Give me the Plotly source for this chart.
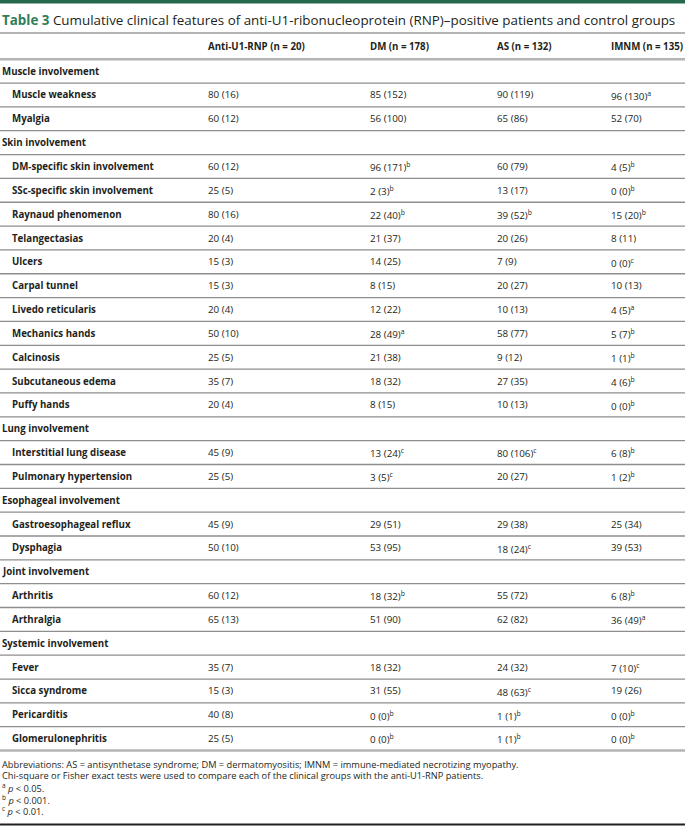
import plotly.graph_objects as go

# ---------------- data ----------------
title_label = "Table 3"
title_text = "Cumulative clinical features of anti-U1-ribonucleoprotein (RNP)–positive patients and control groups"
col_headers = ["Anti-U1-RNP (n = 20)", "DM (n = 178)", "AS (n = 132)", "IMNM (n = 135)"]

row_labels = [
    "Muscle involvement", "Muscle weakness", "Myalgia",
    "Skin involvement", "DM-specific skin involvement", "SSc-specific skin involvement",
    "Raynaud phenomenon", "Telangectasias", "Ulcers", "Carpal tunnel", "Livedo reticularis",
    "Mechanics hands", "Calcinosis", "Subcutaneous edema", "Puffy hands",
    "Lung involvement", "Interstitial lung disease", "Pulmonary hypertension",
    "Esophageal involvement", "Gastroesophageal reflux", "Dysphagia",
    "Joint involvement", "Arthritis", "Arthralgia",
    "Systemic involvement", "Fever", "Sicca syndrome", "Pericarditis", "Glomerulonephritis",
]
is_section = [
    True, False, False,
    True, False, False, False, False, False, False, False, False, False, False, False,
    True, False, False,
    True, False, False,
    True, False, False,
    True, False, False, False, False,
]

rnp_pct = [None, 80, 60, None, 60, 25, 80, 20, 15, 15, 20, 50, 25, 35, 20, None, 45, 25, None, 45, 50, None, 60, 65, None, 35, 15, 40, 25]
rnp_n   = [None, 16, 12, None, 12, 5, 16, 4, 3, 3, 4, 10, 5, 7, 4, None, 9, 5, None, 9, 10, None, 12, 13, None, 7, 3, 8, 5]
rnp_sig = [""] * 29

dm_pct = [None, 85, 56, None, 96, 2, 22, 21, 14, 8, 12, 28, 21, 18, 8, None, 13, 3, None, 29, 53, None, 18, 51, None, 18, 31, 0, 0]
dm_n   = [None, 152, 100, None, 171, 3, 40, 37, 25, 15, 22, 49, 38, 32, 15, None, 24, 5, None, 51, 95, None, 32, 90, None, 32, 55, 0, 0]
dm_sig = ["", "", "", "", "b", "b", "b", "", "", "", "", "a", "", "", "", "", "c", "c", "", "", "", "", "b", "", "", "", "", "b", "b"]

as_pct = [None, 90, 65, None, 60, 13, 39, 20, 7, 20, 10, 58, 9, 27, 10, None, 80, 20, None, 29, 18, None, 55, 62, None, 24, 48, 1, 1]
as_n   = [None, 119, 86, None, 79, 17, 52, 26, 9, 27, 13, 77, 12, 35, 13, None, 106, 27, None, 38, 24, None, 72, 82, None, 32, 63, 1, 1]
as_sig = ["", "", "", "", "", "", "b", "", "", "", "", "", "", "", "", "", "c", "", "", "", "c", "", "", "", "", "", "c", "b", "b"]

imnm_pct = [None, 96, 52, None, 4, 0, 15, 8, 0, 10, 4, 5, 1, 4, 0, None, 6, 1, None, 25, 39, None, 6, 36, None, 7, 19, 0, 0]
imnm_n   = [None, 130, 70, None, 5, 0, 20, 11, 0, 13, 5, 7, 1, 6, 0, None, 8, 2, None, 34, 53, None, 8, 49, None, 10, 26, 0, 0]
imnm_sig = ["", "a", "", "", "b", "b", "b", "", "c", "", "a", "b", "b", "b", "b", "", "b", "b", "", "", "", "", "b", "a", "", "c", "", "b", "b"]

footnotes = [
    "Abbreviations: AS = antisynthetase syndrome; DM = dermatomyositis; IMNM = immune-mediated necrotizing myopathy.",
    "Chi-square or Fisher exact tests were used to compare each of the clinical groups with the anti-U1-RNP patients.",
    "<sup>a</sup> <i>p</i> &lt; 0.05.",
    "<sup>b</sup> <i>p</i> &lt; 0.001.",
    "<sup>c</sup> <i>p</i> &lt; 0.01.",
]

# ---------------- layout constants ----------------
W, H = 685, 826
FONT = "Open Sans"
TXT = "#231f20"
GREEN = "#2f7d5a"
row_top = 59.2
row_h = 23.84
col_x = [207, 369, 496, 610]


def fmt(p, n, s):
    if p is None:
        return ""
    t = f"{p} ({n})"
    if s:
        t += f"<sup>{s}</sup>"
    return t


fig = go.Figure()
# invisible trace to establish axes
fig.add_trace(go.Scatter(x=[0, W], y=[0, H], mode="markers", marker=dict(opacity=0),
                         hoverinfo="skip", showlegend=False))

annotations = []


def add_text(x, y, text, size, color=TXT):
    annotations.append(dict(x=x, y=y, xref="x", yref="y", xanchor="left", yanchor="middle",
                            showarrow=False, text=text, borderpad=0,
                            font=dict(family=FONT, size=size, color=color)))


ys = [row_top + (i + 0.5) * row_h for i in range(len(row_labels))]

for y, lab, sec in zip(ys, row_labels, is_section):
    add_text(1 if sec else 11, y, f"<b>{lab}</b>", 9.7)

cols = [(rnp_pct, rnp_n, rnp_sig), (dm_pct, dm_n, dm_sig), (as_pct, as_n, as_sig), (imnm_pct, imnm_n, imnm_sig)]
for cx, (pc, nn, sg) in zip(col_x, cols):
    for y, p, n, s in zip(ys, pc, nn, sg):
        t = fmt(p, n, s)
        if t:
            add_text(cx, y + (0.8 if s else 0), t, 9.8)

for cx, h in zip(col_x, col_headers):
    add_text(cx, 46, f"<b>{h}</b>", 9.7)

# title
add_text(1, 20, f"<span style='color:{GREEN}'><b>{title_label}</b></span> {title_text}", 13.4)

# footnotes
fy = [764, 775.5, 787, 798.5, 810]
for y, ft in zip(fy, footnotes):
    add_text(1, y + (1.0 if ft.startswith("<sup>") else 0), ft, 9.25)

shapes = []
# top green bar
shapes.append(dict(type="rect", xref="x", yref="y", x0=0, x1=W, y0=0, y1=3.5,
                   fillcolor="#25684d", line=dict(width=0), layer="above"))
# header top line
shapes.append(dict(type="line", xref="x", yref="y", x0=0, x1=W, y0=33, y1=33,
                   line=dict(color="#b4b4b4", width=2)))
# row lines
n_rows = len(row_labels)
for i in range(n_rows + 1):
    y = row_top + i * row_h
    if i == 0 or i == n_rows:
        shapes.append(dict(type="line", xref="x", yref="y", x0=0, x1=W, y0=y, y1=y,
                           line=dict(color="#b4b4b4", width=2.5)))
    else:
        shapes.append(dict(type="line", xref="x", yref="y", x0=0, x1=W, y0=y, y1=y,
                           line=dict(color="#8e8e8e", width=1.3)))
# bottom dark line
shapes.append(dict(type="line", xref="x", yref="y", x0=0, x1=W, y0=824.5, y1=824.5,
                   line=dict(color="#231f20", width=2)))

fig.update_layout(
    width=W, height=H,
    margin=dict(l=0, r=0, t=0, b=0),
    paper_bgcolor="white", plot_bgcolor="white",
    xaxis=dict(range=[0, W], visible=False, fixedrange=True),
    yaxis=dict(range=[H, 0], visible=False, fixedrange=True),
    shapes=shapes, annotations=annotations,
    showlegend=False,
)

fig.write_html("out.html",
               config={"displayModeBar": False},
               post_script="document.body.style.margin='0';document.body.style.overflow='hidden';")
